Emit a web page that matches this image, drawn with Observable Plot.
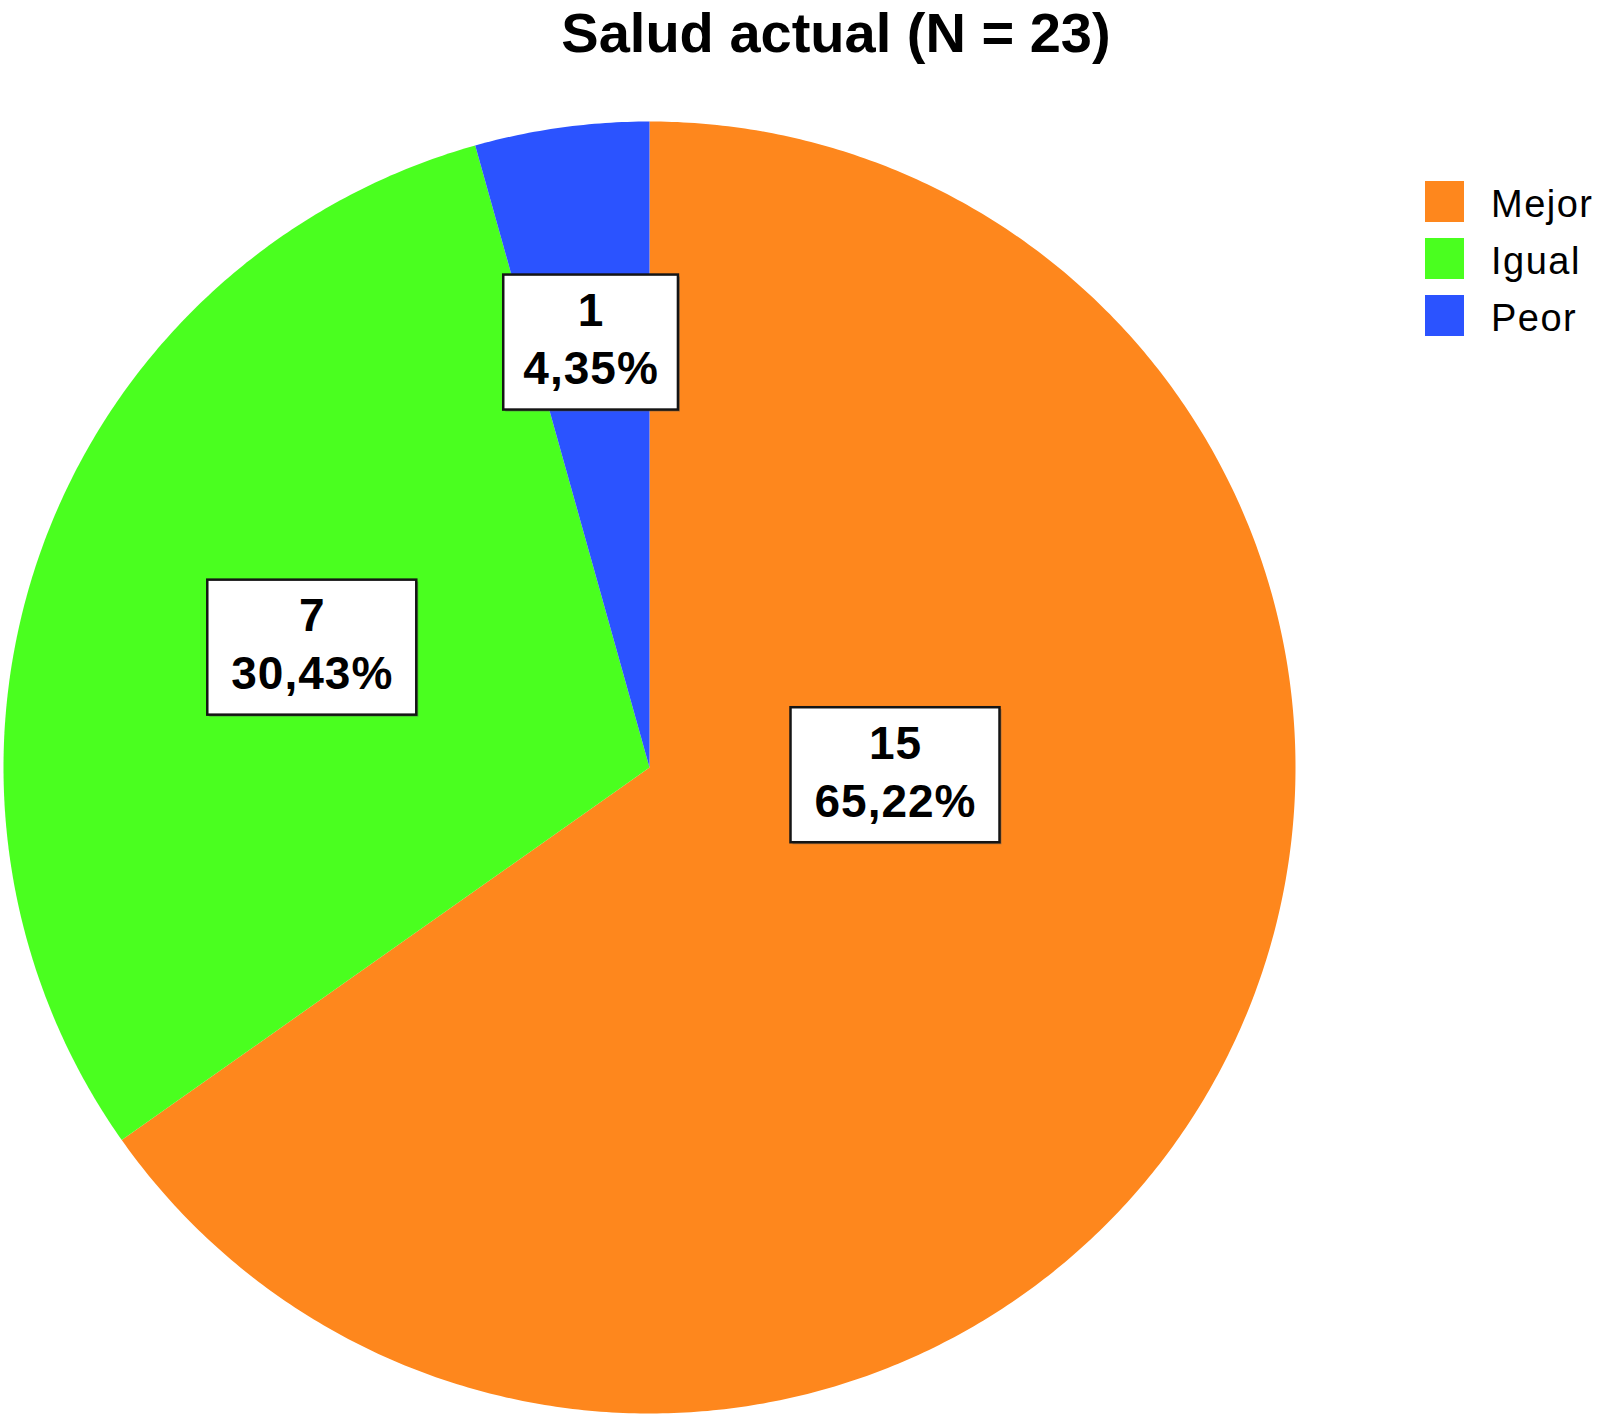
<!DOCTYPE html>
<html><head><meta charset="utf-8">
<script src="https://cdn.jsdelivr.net/npm/d3@7"></script>
<script src="https://cdn.jsdelivr.net/npm/@observablehq/plot@0.6"></script>
<style>
html,body{margin:0;padding:0;background:#fff;}
#wrap{position:relative;width:1598px;height:1416px;overflow:hidden;background:#fff;}
#title{height:80px;line-height:59px;font:bold 56px "Liberation Sans",Arial,sans-serif;text-align:center;padding-left:74px;box-sizing:border-box;color:#000;white-space:nowrap;}
#legend{position:absolute;left:1425px;top:181px;}
.row{display:flex;align-items:center;height:41px;margin-bottom:16px;}
.sw{width:39px;height:41px;flex:none;}
.lb{margin-left:27px;font:38px "Liberation Sans",Arial,sans-serif;letter-spacing:1.5px;position:relative;top:3px;color:#000;white-space:nowrap;}
</style></head>
<body>
<div id="wrap">
  <div id="title"></div>
  <div id="chart"></div>
  <div id="legend"></div>
</div>
<script>
// ---- data ----
const titleText = "Salud actual (N = 23)";
const categories = ["Mejor", "Igual", "Peor"];
const counts = [15, 7, 1];
const colors = ["#fe871d", "#4aff1f", "#2b53ff"];

// ---- layout (drawing config) ----
const W = 1598, H = 1336;
const cx = 649, cy = 687, R = 646;
const labelPlacement = {Mejor: {radius: 0.381, angle: 91.8}, Igual: {radius: 0.554}, Peor: {radius: 0.664}};
const labelFont = 46, letterSp = 1, boxH = 135;

document.getElementById("title").textContent = titleText;

const total = d3.sum(counts);
const rows = categories.map((name, i) => ({name, count: counts[i], pct: (counts[i] / total * 100).toFixed(2).replace(".", ",") + "%"}));
const arcs = d3.pie().sort(null).value(d => d.count)(rows);

// polygon points for each slice (angle clockwise from 12 o'clock)
const pts = [];
for (const a of arcs) {
  pts.push({name: a.data.name, x: 0, y: 0});
  const n = Math.max(2, Math.ceil((a.endAngle - a.startAngle) / (Math.PI / 360)));
  for (let k = 0; k <= n; k++) {
    const t = a.startAngle + (a.endAngle - a.startAngle) * k / n;
    pts.push({name: a.data.name, x: Math.sin(t), y: Math.cos(t)});
  }
  pts.push({name: a.data.name, x: 0, y: 0});
}

// labels
const ctx = document.createElement("canvas").getContext("2d");
ctx.font = `bold ${labelFont}px "Liberation Sans", Arial, sans-serif`;
const tw = s => ctx.measureText(s).width + s.length * letterSp;
const labels = arcs.map(a => {
  const p = labelPlacement[a.data.name];
  const ang = p.angle != null ? p.angle * Math.PI / 180 : (a.startAngle + a.endAngle) / 2;
  const x = p.radius * Math.sin(ang), y = p.radius * Math.cos(ang);
  const line1 = String(a.data.count), line2 = a.data.pct;
  const w = 1.29 * Math.max(tw(line1), tw(line2));
  return {name: a.data.name, x, y, text: line1 + "\n" + line2,
    x1: x - w / 2 / R, x2: x + w / 2 / R, y1: y - boxH / 2 / R, y2: y + boxH / 2 / R};
});

const chart = Plot.plot({
  width: W, height: H, margin: 0,
  x: {domain: [-1, 1], range: [cx - R, cx + R], axis: null},
  y: {domain: [-1, 1], range: [cy + R, cy - R], axis: null},
  color: {domain: categories, range: colors},
  style: `background:#fff;font-family:"Liberation Sans",Arial,sans-serif;letter-spacing:${letterSp}px;overflow:visible;`,
  marks: [
    Plot.line(pts, {x: "x", y: "y", z: "name", fill: "name", stroke: "none", curve: "linear"}),
    Plot.rect(labels, {x1: "x1", x2: "x2", y1: "y1", y2: "y2", fill: "#555", fillOpacity: 0.45, dx: 2, dy: 2}),
    Plot.rect(labels, {x1: "x1", x2: "x2", y1: "y1", y2: "y2", fill: "white", stroke: "#151515", strokeWidth: 2.5}),
    Plot.text(labels, {x: "x", y: "y", text: "text", fontSize: labelFont, fontWeight: "bold", lineHeight: 1.26, dy: -6, fill: "#000"})
  ]
});
document.getElementById("chart").appendChild(chart);

// legend
const leg = document.getElementById("legend");
categories.forEach((c, i) => {
  const row = document.createElement("div"); row.className = "row";
  const sw = document.createElement("div"); sw.className = "sw"; sw.style.background = colors[i];
  const lb = document.createElement("div"); lb.className = "lb"; lb.textContent = c;
  row.appendChild(sw); row.appendChild(lb); leg.appendChild(row);
});
</script>
</body></html>
